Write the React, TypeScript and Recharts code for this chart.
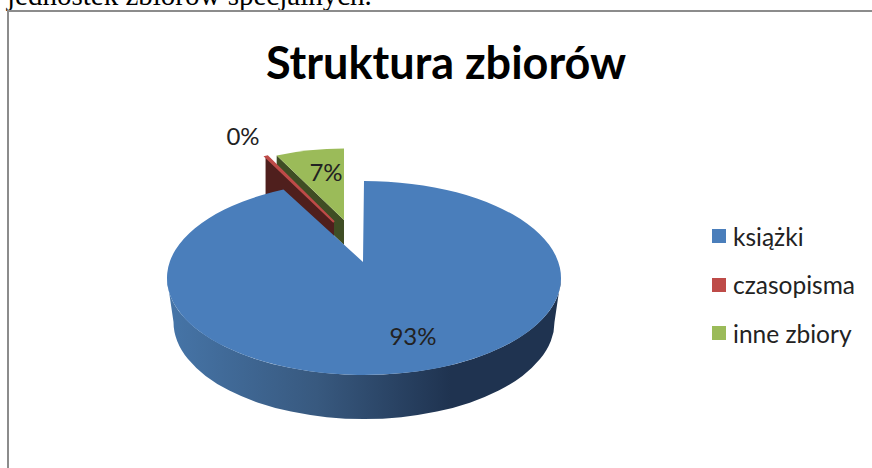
import React from "react";
import { PieChart, Pie, Legend } from "recharts";

const categories = ["książki", "czasopisma", "inne zbiory"];
const shares = [93.3, 0.2, 6.5];
const colors = ["#4a7ebb", "#be4b48", "#9bbb59"];
const wallColors = ["#1f3350", "#4f1f1d", "#3f4d24"];
const TITLE = "Struktura zbiorów";
const PAGE_TEXT = "jednostek zbiorów specjalnych.";

// Exploded-slice geometry, by category name (3D perspective look of the original).
const sliceStyle: Record<string, any> = {
  "książki": { dx: 0, dy: 0, scale: 1, lift: 16, wall: 0, label: [49, 57] },
  "czasopisma": { dx: -30, dy: -46, scale: 0.85, lift: 10, wall: 38, label: [-121, -143] },
  "inne zbiory": { dx: -20, dy: -46, scale: 0.86, lift: 12, wall: 25, label: [-38, -107] },
};

const TILT = 97 / 197;
const DEPTH = 44;
const RIM_INSET = 6.5;

// The table is drawn back to front: small slices first, the big slice over them.
const rows = categories
  .map((name, i) => ({ name, value: shares[i], fill: colors[i], wallFill: wallColors[i] }))
  .reverse();

function Slice(props: any) {
  const { cx, cy, outerRadius, startAngle, endAngle, payload } = props;
  const row = payload && payload.name ? payload : props;
  const s = sliceStyle[row.name];
  const rx = outerRadius * s.scale;
  const ry = rx * TILT;
  const ox = cx + s.dx;
  const oy = cy + s.dy;
  const at = (deg: number) => {
    const a = (deg * Math.PI) / 180;
    return [ox + rx * Math.cos(a), oy - ry * Math.sin(a)];
  };
  const [x0, y0] = at(startAngle);
  const [x1, y1] = at(endAngle);
  const ax = ox - (s.scale === 1 ? 1 : 0);
  const ay = oy - s.lift;
  const large = endAngle - startAngle > 180 ? 1 : 0;
  const top = `M${ax},${ay} L${x0},${y0} A${rx},${ry} 0 ${large} 0 ${x1},${y1} Z`;
  const isThin = endAngle - startAngle < 2;
  return (
    <g>
      {s.scale === 1 && (
        <>
          <defs>
            <linearGradient id="rimGradient" x1="0" y1="0" x2="1" y2="0">
              <stop offset="0" stopColor="#4675a8" />
              <stop offset="0.38" stopColor="#38597f" />
              <stop offset="0.72" stopColor="#1f3350" />
              <stop offset="1" stopColor="#1f3350" />
            </linearGradient>
          </defs>
          <path
            d={`M${ox - rx},${oy} A${rx},${ry} 0 0 0 ${ox + rx},${oy} L${ox + rx - RIM_INSET},${oy + DEPTH} A${rx - RIM_INSET},${ry} 0 0 1 ${ox - rx + RIM_INSET},${oy + DEPTH} Z`}
            fill="url(#rimGradient)"
          />
        </>
      )}
      {s.wall > 0 && (
        <path
          d={`M${x1},${y1} L${ax},${ay} L${ax},${ay + s.wall} L${x1},${y1 + s.wall} Z`}
          fill={row.wallFill}
        />
      )}
      <path d={top} fill={row.fill} stroke={isThin ? row.fill : "none"} strokeWidth={isThin ? 2 : 0} />
    </g>
  );
}

function SliceLabel(props: any) {
  const { cx, cy, name, percent } = props;
  const s = sliceStyle[name];
  return (
    <text x={cx + s.label[0]} y={cy + s.label[1]} textAnchor="middle" dominantBaseline="central" fontFamily="Lato" fontSize={24} fill="#222">
      {`${Math.round(percent * 100)}%`}
    </text>
  );
}

function LegendList({ payload }: any) {
  const items = [...(payload || [])].sort((a: any, b: any) => categories.indexOf(a.value) - categories.indexOf(b.value));
  return (
    <div>
      {items.map((it: any) => (
        <div key={it.value} style={{ display: "flex", alignItems: "center", height: 48.5, fontFamily: "Lato", fontSize: 24.5, color: "#222" }}>
          <span style={{ width: 14, height: 14, background: it.color, marginRight: 7, display: "inline-block" }} />
          {it.value}
        </div>
      ))}
    </div>
  );
}

export default function App() {
  return (
    <div style={{ position: "absolute", left: 0, top: 0, width: 872, height: 468, overflow: "hidden", background: "#fff" }}>
      <div style={{ position: "absolute", left: 7, top: -21, fontFamily: "Liberation Serif", fontSize: 29, whiteSpace: "nowrap", color: "#000" }}>{PAGE_TEXT}</div>
      <div style={{ position: "absolute", left: 7, top: 10, width: 865, height: 458, borderLeft: "2px solid #8c8c8c", borderTop: "2px solid #8c8c8c", background: "#fff" }} />
      <PieChart width={872} height={468} margin={{ top: 0, right: 0, bottom: 0, left: 0 }} style={{ position: "absolute", left: 0, top: 0 }}>
        <text x={446} y={62} textAnchor="middle" dominantBaseline="central" fontFamily="Lato" fontWeight={700} fontSize={45} fill="#000">{TITLE}</text>
        <Pie
          data={rows}
          dataKey="value"
          nameKey="name"
          cx={364}
          cy={278}
          outerRadius={197}
          startAngle={90}
          endAngle={450}
          stroke="none"
          isAnimationActive={false}
          labelLine={false}
          label={SliceLabel}
          shape={Slice}
        />
        <Legend content={LegendList} layout="vertical" verticalAlign="middle" align="right" wrapperStyle={{ left: 712, right: "auto", top: 212, width: 160 }} />
      </PieChart>
    </div>
  );
}
